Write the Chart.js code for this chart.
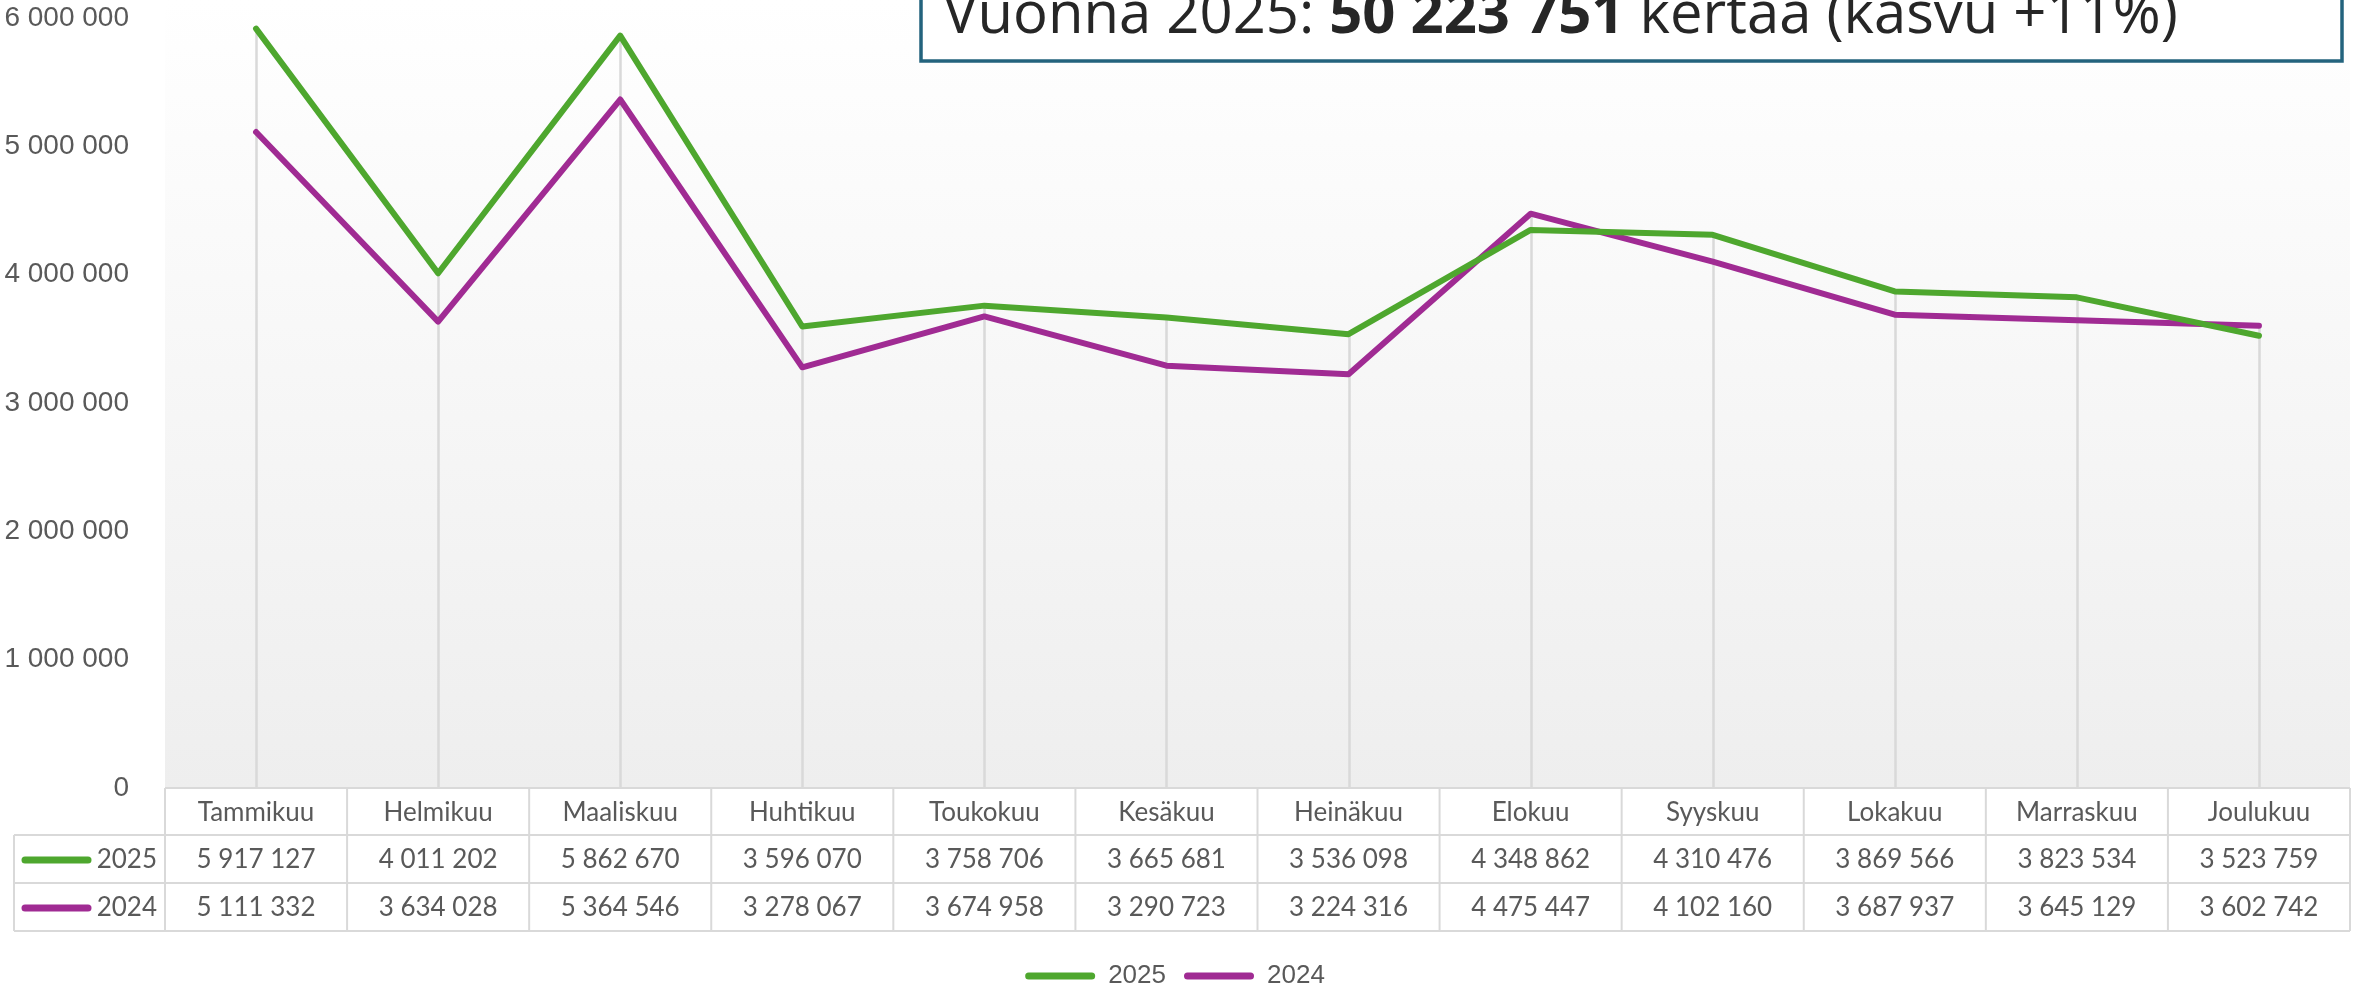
<!DOCTYPE html>
<html><head><meta charset="utf-8">
<script src="https://cdn.jsdelivr.net/npm/chart.js@4/dist/chart.umd.min.js"></script>
<style>html,body{margin:0;padding:0;background:#fff;}canvas{display:block;}</style>
</head><body>
<canvas id="c" width="2364" height="987"></canvas>
<script>
// ---- data ----
const months = ['Tammikuu','Helmikuu','Maaliskuu','Huhtikuu','Toukokuu','Kesäkuu','Heinäkuu','Elokuu','Syyskuu','Lokakuu','Marraskuu','Joulukuu'];
const seriesNames = ['2025','2024'];
const values2025 = [5917127,4011202,5862670,3596070,3758706,3665681,3536098,4348862,4310476,3869566,3823534,3523759];
const values2024 = [5111332,3634028,5364546,3278067,3674958,3290723,3224316,4475447,4102160,3687937,3645129,3602742];
const yMin = 0, yMax = 6000000, yStep = 1000000;
const boxTextParts = ['Vuonna 2025: ', '50 223 751', ' kertaa (kasvu +11%)'];
const boxTextBold = [false, true, false];

// ---- styles ----
const GREEN = '#4EA72E', PURPLE = '#A02B93';
const TXT = '#595959', GRID = '#d9d9d9';
const fmt = n => String(n).replace(/\B(?=(\d{3})+(?!\d))/g, ' ');

const bgPlugin = {
  id: 'bg',
  beforeDraw(chart) {
    const {ctx, chartArea: a} = chart;
    ctx.save();
    const g = ctx.createLinearGradient(0, 0, 0, a.bottom);
    g.addColorStop(0, '#ffffff');
    g.addColorStop(1, '#eeeeee');
    ctx.fillStyle = g;
    ctx.fillRect(a.left, 0, a.right - a.left, a.bottom);
    ctx.restore();
  }
};

const dropLines = {
  id: 'drop',
  beforeDatasetsDraw(chart) {
    const {ctx, chartArea: a, scales: {x, y}} = chart;
    ctx.save();
    ctx.strokeStyle = GRID; ctx.lineWidth = 2.5;
    months.forEach((m, i) => {
      const px = Math.round(x.getPixelForValue(i)) + 0.5;
      const top = y.getPixelForValue(Math.max(values2025[i], values2024[i]));
      ctx.beginPath(); ctx.moveTo(px, top); ctx.lineTo(px, a.bottom); ctx.stroke();
    });
    ctx.restore();
  }
};

const tablePlugin = {
  id: 'table',
  afterDraw(chart) {
    const {ctx, chartArea: a, scales: {x}} = chart;
    const top = a.bottom, r1 = top + 47, r2 = r1 + 48, r3 = r2 + 48;
    const keyLeft = 14;
    ctx.save();
    ctx.strokeStyle = GRID; ctx.lineWidth = 2;
    const hl = (x0, x1, yy) => { ctx.beginPath(); ctx.moveTo(x0, yy); ctx.lineTo(x1, yy); ctx.stroke(); };
    const vl = (xx, y0, y1) => { ctx.beginPath(); ctx.moveTo(xx, y0); ctx.lineTo(xx, y1); ctx.stroke(); };
    hl(a.left, a.right, top);
    hl(keyLeft, a.right, r1); hl(keyLeft, a.right, r2); hl(keyLeft, a.right, r3);
    vl(keyLeft, r1, r3);
    vl(a.left, top, r3);
    for (let i = 0; i < months.length - 1; i++) {
      const b = (x.getPixelForValue(i) + x.getPixelForValue(i + 1)) / 2;
      vl(b, top, r3);
    }
    vl(a.right, top, r3);
    ctx.fillStyle = TXT;
    ctx.font = '26px Lato';
    ctx.textAlign = 'center'; ctx.textBaseline = 'middle';
    const rows = [values2025, values2024];
    const cols = [GREEN, PURPLE];
    rows.forEach((vals, ri) => {
      const cy = (ri === 0 ? (r1 + r2) : (r2 + r3)) / 2 + 1;
      vals.forEach((v, i) => ctx.fillText(fmt(v), x.getPixelForValue(i), cy));
      ctx.textAlign = 'right';
      ctx.fillText(seriesNames[ri], 157, cy);
      ctx.textAlign = 'center';
      ctx.strokeStyle = cols[ri]; ctx.lineWidth = 7; ctx.lineCap = 'round';
      ctx.beginPath(); ctx.moveTo(25, cy); ctx.lineTo(88, cy); ctx.stroke();
      ctx.strokeStyle = GRID; ctx.lineWidth = 2; ctx.lineCap = 'butt';
    });
    ctx.restore();
  }
};

const boxPlugin = {
  id: 'textbox',
  afterDraw(chart) {
    const ctx = chart.ctx;
    const L = 921, R = 2342, T = -20, B = 61;
    ctx.save();
    ctx.fillStyle = '#ffffff';
    ctx.fillRect(L, T, R - L, B - T);
    ctx.strokeStyle = '#23637d'; ctx.lineWidth = 3.5;
    ctx.strokeRect(L, T, R - L, B - T);
    const fam = '"Open Sans"';
    const f = (b, s) => (b ? 'bold ' : '') + s + 'px ' + fam;
    let total = 0;
    boxTextParts.forEach((p, i) => { ctx.font = f(boxTextBold[i], 100); total += ctx.measureText(p).width; });
    const s = 100 * 1235 / total;
    let xx = 943;
    ctx.fillStyle = '#262626'; ctx.textBaseline = 'alphabetic'; ctx.textAlign = 'left';
    boxTextParts.forEach((p, i) => { ctx.font = f(boxTextBold[i], s); ctx.fillText(p, xx, 33); xx += ctx.measureText(p).width; });
    ctx.restore();
  }
};

function make() {
  new Chart(document.getElementById('c'), {
    type: 'line',
    data: {
      labels: months,
      datasets: [
        {label: seriesNames[0], data: values2025, borderColor: GREEN, backgroundColor: GREEN, borderWidth: 6, pointRadius: 0, tension: 0, borderCapStyle: 'round', borderJoinStyle: 'round'},
        {label: seriesNames[1], data: values2024, borderColor: PURPLE, backgroundColor: PURPLE, borderWidth: 6, pointRadius: 0, tension: 0, borderCapStyle: 'round', borderJoinStyle: 'round'}
      ]
    },
    options: {
      responsive: false, animation: false, devicePixelRatio: 1,
      layout: {padding: {top: 18, right: 14, left: 0, bottom: -12}},
      plugins: {
        legend: {
          position: 'bottom',
          labels: {
            font: {family: '"Liberation Sans", Arial', size: 26}, color: TXT,
            boxWidth: 70, boxHeight: 7, useBorderRadius: true, borderRadius: 3.5, padding: 18,
            generateLabels(chart) {
              return chart.data.datasets.map((d, i) => ({text: d.label, fillStyle: d.borderColor, strokeStyle: d.borderColor, lineWidth: 0, datasetIndex: i, fontColor: TXT, borderRadius: 3.5}));
            }
          }
        },
        tooltip: {enabled: false}
      },
      scales: {
        x: {
          offset: true,
          grid: {display: false}, border: {display: false},
          ticks: {font: {family: 'Lato', size: 26}, color: TXT, padding: 1, maxRotation: 0, autoSkip: false},
          afterFit(s) { s.height = 211 - (26 + 18 + 10); }
        },
        y: {
          min: yMin, max: yMax,
          grid: {display: false}, border: {display: false},
          ticks: {stepSize: yStep, font: {family: '"Liberation Sans", Arial', size: 28}, color: TXT, padding: 28, callback: v => fmt(v)},
          afterFit(s) { s.width = 165; s.paddingTop = 0; s.paddingBottom = 0; }
        }
      }
    },
    plugins: [bgPlugin, dropLines, tablePlugin, boxPlugin]
  });
}
Promise.all([
  document.fonts.load('26px Lato'), document.fonts.load('28px "Liberation Sans"'),
  document.fonts.load('40px "Open Sans"'), document.fonts.load('bold 40px "Open Sans"')
]).then(make, make);
</script>
</body></html>
